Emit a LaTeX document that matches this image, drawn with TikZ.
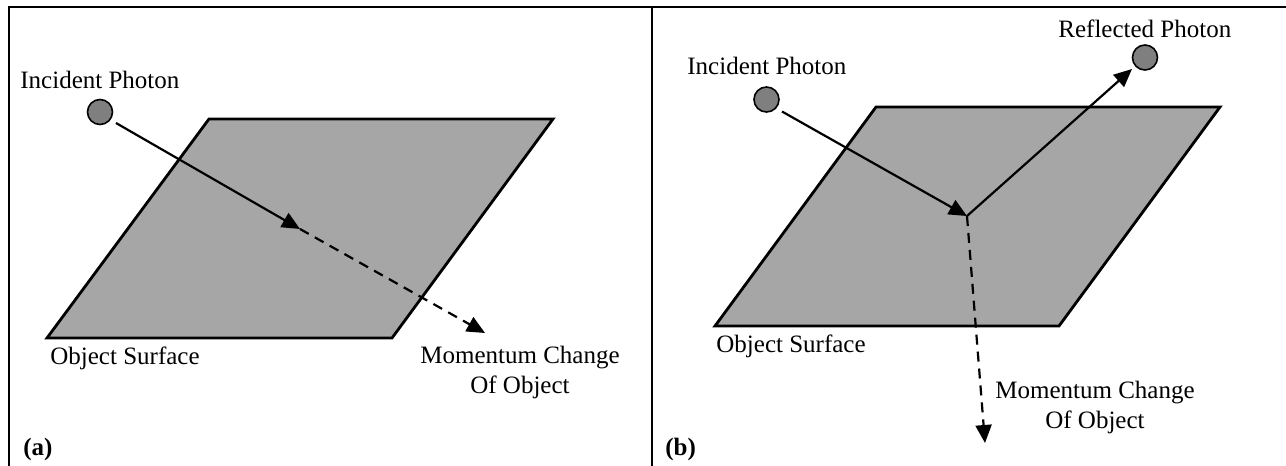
\documentclass[tikz,border=0pt]{standalone}
\usepackage{fontspec}
\setmainfont{Liberation Serif}
\usetikzlibrary{arrows.meta}
\definecolor{surf}{HTML}{A6A6A6}
\definecolor{phot}{HTML}{7F7F7F}
\begin{document}
\begin{tikzpicture}[x=0.5pt,y=-0.5pt,
  frame/.style={line width=1.2pt,black},
  surface/.style={draw=black,fill=surf,line width=1.4pt,line join=miter},
  photon/.style={circle,draw=black,fill=phot,line width=0.8pt,minimum size=12.5pt,inner sep=0pt},
  ray/.style={line width=1.1pt,-{Triangle[length=9pt,width=8pt]}},
  mom/.style={line width=1.1pt,dash pattern=on 5pt off 3.5pt,-{Triangle[length=9pt,width=8pt]}},
  lbl/.style={font=\fontsize{12.5}{14.5}\selectfont,inner sep=0pt,anchor=base west},
  mlbl/.style={font=\fontsize{12.5}{14.75}\selectfont,inner sep=0pt,align=center,anchor=base},
  tag/.style={font=\fontsize{12.5}{14.5}\selectfont\bfseries,inner sep=0pt,anchor=base west}]
\useasboundingbox (0,0) rectangle (1286,466);
% frame
\draw[frame] (9,466) -- (9,7) -- (1286,7);
\draw[frame] (652,7) -- (652,466);

% ---------- panel (a) ----------
\draw[surface] (209,119) -- (553,119) -- (392,338) -- (47,338) -- cycle;
\node[photon] (pa) at (100,112) {};
\coordinate (a1) at (116,123);
\coordinate (a2) at (300,229);
\coordinate (a3) at (485,333);
\draw[ray] (a1) -- (a2);
\draw[mom] (a2) -- (a3);
\node[lbl] (ia) at (20,88) {Incident Photon};
\node[lbl] (sa) at (50,364) {Object Surface};
\node[mlbl] (ma) at (520,393) {Momentum Change\\Of Object};
\node[tag] (ta) at (23,455) {(a)};

% ---------- panel (b) ----------
\draw[surface] (876,107) -- (1220,107) -- (1059,326) -- (715,326) -- cycle;
\node[photon] (pb) at (766.5,99.5) {};
\node[photon] (pr) at (1145,57.5) {};
\coordinate (b1) at (782,111.5);
\coordinate (b2) at (967,216);
\coordinate (b3) at (1132,69);
\coordinate (b4) at (985,443);
\draw[ray] (b1) -- (b2);
\draw[ray] (b2) -- (b3);
\draw[mom] (b2) -- (b4);
\node[lbl] (rb) at (1058,37) {Reflected Photon};
\node[lbl] (ib) at (687,75) {Incident Photon};
\node[lbl] (sb) at (716,352) {Object Surface};
\node[mlbl] (mb) at (1095,428) {Momentum Change\\Of Object};
\node[tag] (tb) at (665,455) {(b)};
\end{tikzpicture}
\end{document}
